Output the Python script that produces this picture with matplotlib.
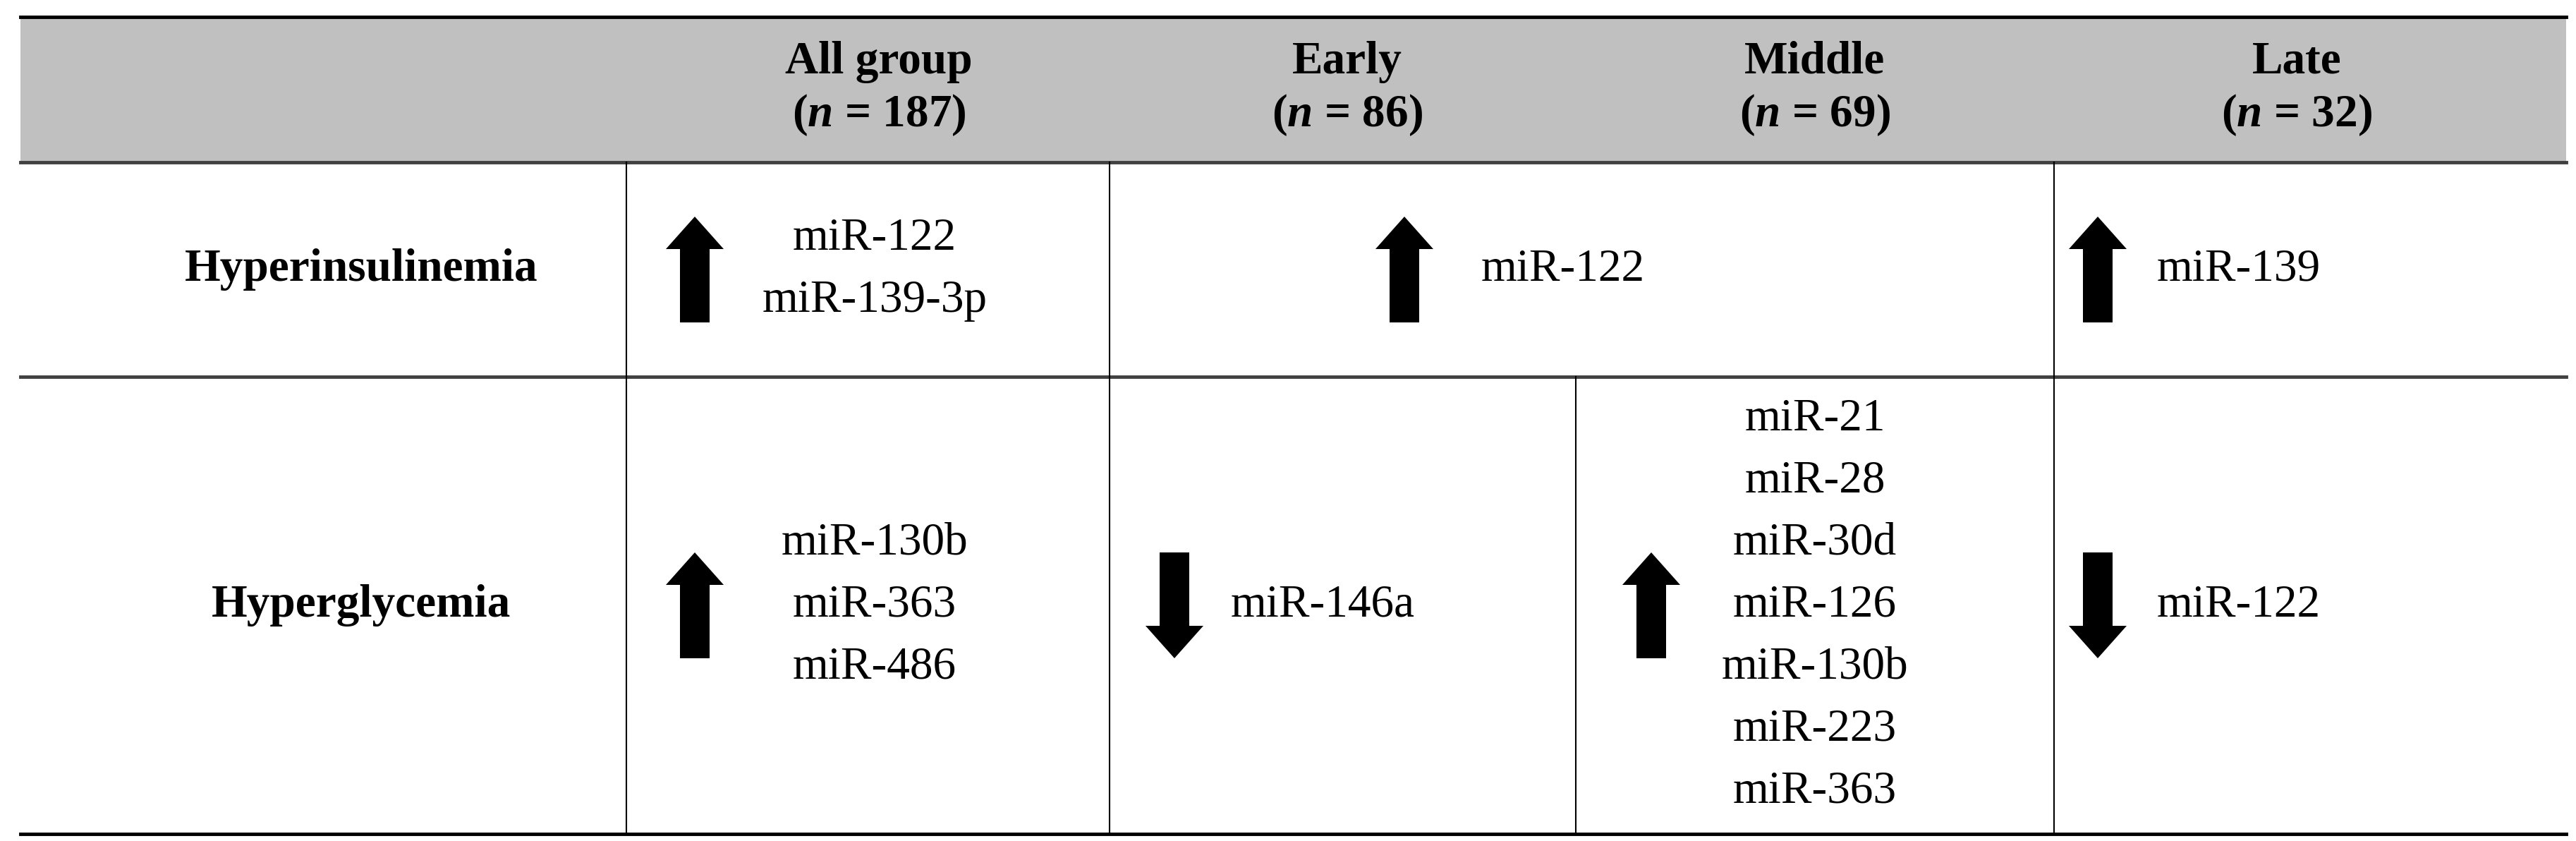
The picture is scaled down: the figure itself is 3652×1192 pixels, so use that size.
import matplotlib.pyplot as plt
from matplotlib.patches import Polygon, Rectangle

plt.rcParams['font.family'] = ['Liberation Serif', 'DejaVu Serif']
plt.rcParams['mathtext.fontset'] = 'custom'
plt.rcParams['mathtext.rm'] = 'Liberation Serif:bold'
plt.rcParams['mathtext.it'] = 'Liberation Serif:italic:bold'
plt.rcParams['mathtext.bf'] = 'Liberation Serif:bold'
plt.rcParams['mathtext.bfit'] = 'Liberation Serif:italic:bold'

# header
groups = ['All group', 'Early', 'Middle', 'Late']
group_n = ['187', '86', '69', '32']
row_labels = ['Hyperinsulinemia', 'Hyperglycemia']

# miRNAs per cell
hyperins_all = ['miR-122', 'miR-139-3p']
hyperins_early_mid = ['miR-122']
hyperins_late = ['miR-139']
hypergly_all = ['miR-130b', 'miR-363', 'miR-486']
hypergly_early = ['miR-146a']
hypergly_mid = ['miR-21', 'miR-28', 'miR-30d', 'miR-126', 'miR-130b', 'miR-223', 'miR-363']
hypergly_late = ['miR-122']

W, H = 3652, 1192
fig = plt.figure(figsize=(W / 100, H / 100), dpi=100)
ax = fig.add_axes([0, 0, 1, 1])
ax.set_xlim(0, W)
ax.set_ylim(H, 0)
ax.axis('off')

left, right = 29, 3638
top, head_bot, row_line, bottom = 24, 230, 534, 1182
fs = 47
lsp = 88

ax.add_patch(Rectangle((left, top), right - left, head_bot - top, color='#c0c0c0', lw=0))
ax.plot([left, right], [top, top], color='black', lw=3.5)
ax.plot([left, right], [head_bot, head_bot], color='#404040', lw=3.5)
ax.plot([left, right], [row_line, row_line], color='#404040', lw=3.5)
ax.plot([left, right], [bottom, bottom], color='black', lw=3.5)
for x in [888, 1573, 2912]:
    ax.plot([x, x], [head_bot, bottom], color='black', lw=1.5)
ax.plot([2234, 2234], [row_line, bottom], color='black', lw=1.5)

head_x = [1246, 1910, 2573, 3256]
for g, n, x in zip(groups, group_n, head_x):
    ax.text(x, 88, g, ha='center', va='center', fontsize=fs, fontweight='bold')
    ax.text(x, 163, r'($\mathit{n}$ = ' + n + ')', ha='center', va='center',
            fontsize=fs, fontweight='bold')

row_y = [382, 858]
for lab, y in zip(row_labels, row_y):
    ax.text(512, y, lab, ha='center', va='center', fontsize=fs, fontweight='bold')


def arrow(x, yc, up):
    h, hw, sw, hl = 150, 82, 42, 46
    t, b = yc - h / 2, yc + h / 2
    if up:
        pts = [(x, t), (x + hw / 2, t + hl), (x + sw / 2, t + hl), (x + sw / 2, b),
               (x - sw / 2, b), (x - sw / 2, t + hl), (x - hw / 2, t + hl)]
    else:
        pts = [(x, b), (x + hw / 2, b - hl), (x + sw / 2, b - hl), (x + sw / 2, t),
               (x - sw / 2, t), (x - sw / 2, b - hl), (x - hw / 2, b - hl)]
    ax.add_patch(Polygon(pts, closed=True, color='black', lw=0))


def mirs(lines, x, yc, ha):
    y0 = yc - (len(lines) - 1) * lsp / 2
    for i, m in enumerate(lines):
        ax.text(x, y0 + i * lsp, m, ha=ha, va='center', fontsize=fs)


cells = [
    (0, 985, True, hyperins_all, 1240, 'center'),
    (0, 1991, True, hyperins_early_mid, 2100, 'left'),
    (0, 2974, True, hyperins_late, 3058, 'left'),
    (1, 985, True, hypergly_all, 1240, 'center'),
    (1, 1665, False, hypergly_early, 1745, 'left'),
    (1, 2341, True, hypergly_mid, 2573, 'center'),
    (1, 2974, False, hypergly_late, 3058, 'left'),
]
for r, ax_x, up, lines, tx, ha in cells:
    arrow(ax_x, row_y[r], up)
    mirs(lines, tx, row_y[r], ha)

fig.savefig('out.png', dpi=100)
